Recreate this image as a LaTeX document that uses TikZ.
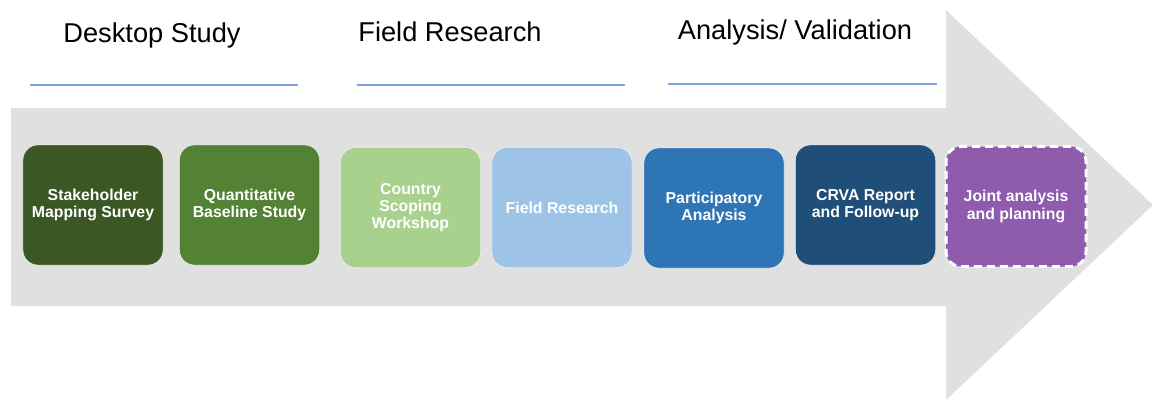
\documentclass[tikz,border=0pt]{standalone}
\usepackage{fontspec}
\setmainfont{Liberation Sans}
\usepackage{tikz}
\usetikzlibrary{arrows.meta}
\tikzset{>=Stealth}
\usetikzlibrary{positioning}
\definecolor{arrowgray}{HTML}{E0E0E0}
\definecolor{ruleblue}{HTML}{7FA1DF}
\definecolor{darkgreen}{HTML}{3B5724}
\definecolor{midgreen}{HTML}{548235}
\definecolor{lightgreen}{HTML}{A9D18E}
\definecolor{lightblue}{HTML}{9DC3E6}
\definecolor{midblue}{HTML}{2E75B6}
\definecolor{darkblue}{HTML}{1F4E79}
\definecolor{jointpurple}{HTML}{8E5BAD}
\tikzset{
    stagebox/.style={rounded corners=3mm, minimum width=28mm, minimum height=24mm,
        draw=white, line width=0.2pt, text=white, align=center,
        font=\fontsize{9}{9.8}\selectfont\bfseries},
    phase/.style={font=\fontsize{15.5}{18}\selectfont, text=black},
    phaserule/.style={draw=ruleblue, line width=0.6pt}
}

\begin{document}
\begin{tikzpicture}[x=0.2mm,y=-0.2mm]
    \useasboundingbox (0,0) rectangle (1153,403);
    \fill[arrowgray] (11,108) -- (946,108) -- (946,10) -- (1153,205)
        -- (946,400) -- (946,306) -- (11,306) -- cycle;
    \node[phase] at (152,35) (desk) {Desktop Study};
    \node[phase] at (450,32) (field) {Field Research};
    \node[phase] at (795,32) (valid) {Analysis/ Validation};
    \coordinate (d1) at (30,85);  \coordinate (d2) at (298,85);
    \coordinate (f1) at (357,85); \coordinate (f2) at (625,85);
    \coordinate (v1) at (668,84); \coordinate (v2) at (937,84);
    \draw[phaserule] (d1) -- (d2);
    \draw[phaserule] (f1) -- (f2);
    \draw[phaserule] (v1) -- (v2);
    \node[stagebox,fill=darkgreen] at (93,205) (mapping) {Stakeholder\\Mapping Survey};
    \node[stagebox,fill=midgreen] at (249.5,205) (baseline) {Quantitative\\Baseline Study};
    \node[stagebox,fill=lightgreen] at (410.5,207.5) (scoping) {Country\\Scoping\\Workshop};
    \node[stagebox,fill=lightblue] at (562,207.5) (research) {Field Research};
    \node[stagebox,fill=midblue] at (714,208) (particip) {Participatory\\Analysis};
    \node[stagebox,fill=darkblue] at (865.5,205) (report) {CRVA Report\\and Follow-up};
    \node[stagebox,fill=jointpurple,line width=1.7pt,dash pattern=on 1.6mm off 1mm]
        at (1016,206.5) (joint) {Joint analysis\\and planning};
\end{tikzpicture}
\end{document}
